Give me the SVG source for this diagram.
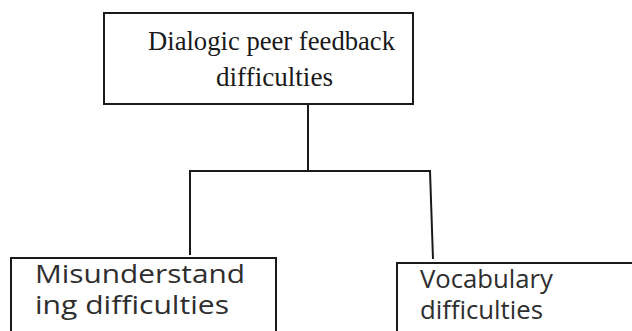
<svg xmlns="http://www.w3.org/2000/svg" width="632" height="331" viewBox="0 0 632 331">
<style>
.box{fill:#fff;stroke:#1a1a1a;stroke-width:2}
.ser{font-family:"Liberation Serif","Times New Roman",serif;font-size:28px;fill:#1a1a1a}
.san{font-family:"Open Sans","Liberation Sans",Arial,sans-serif;font-size:25px;fill:#2e2e2e}
.con{fill:none;stroke:#1a1a1a;stroke-width:2}
</style>
<rect width="632" height="331" fill="#fff"/>
<g id="connectors">
<path class="con" d="M308 104 V171"/>
<path class="con" d="M190 255 V171 H430 L433 259"/>
</g>
<g id="root">
<rect class="box" x="104" y="13" width="309" height="91"/>
<text class="ser" x="148" y="50" textLength="247" lengthAdjust="spacingAndGlyphs">Dialogic peer feedback</text>
<text class="ser" x="216" y="86" textLength="117" lengthAdjust="spacingAndGlyphs">difficulties</text>
</g>
<g id="misunderstanding">
<rect class="box" x="11" y="258" width="265" height="80"/>
<text class="san" x="35" y="283" textLength="210" lengthAdjust="spacingAndGlyphs">Misunderstand</text>
<text class="san" x="35" y="314" textLength="194" lengthAdjust="spacingAndGlyphs">ing difficulties</text>
</g>
<g id="vocabulary">
<rect class="box" x="397" y="263" width="245" height="80"/>
<text class="san" x="420" y="288" textLength="133" lengthAdjust="spacingAndGlyphs">Vocabulary</text>
<text class="san" x="420" y="319" textLength="123" lengthAdjust="spacingAndGlyphs">difficulties</text>
</g>
</svg>
